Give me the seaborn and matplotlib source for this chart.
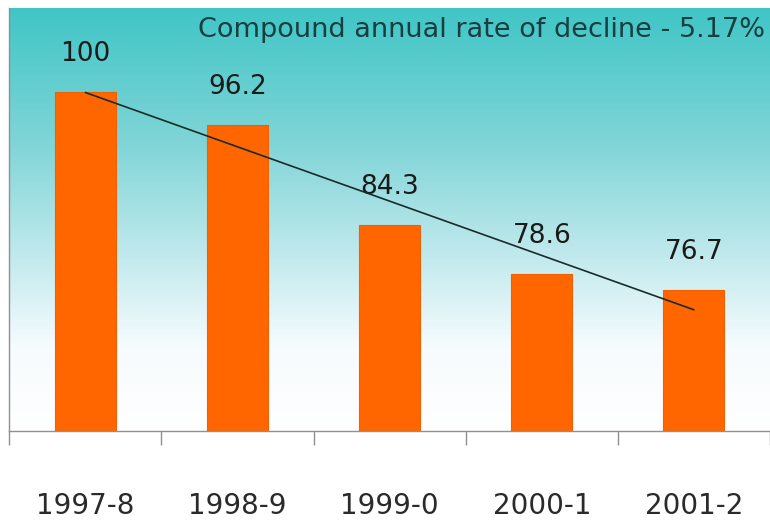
import numpy as np
import matplotlib.pyplot as plt
import seaborn as sns
from matplotlib.colors import LinearSegmentedColormap
from matplotlib.ticker import FixedLocator

# data
periods = ['1997-8', '1998-9', '1999-0', '2000-1', '2001-2']
index_values = [100, 96.2, 84.3, 78.6, 76.7]
title_note = 'Compound annual rate of decline - 5.17%'

sns.set_style('ticks')
plt.rcParams['font.family'] = ['DejaVu Sans']

fig = plt.figure(figsize=(7.7, 5.23), dpi=100)
ax = fig.add_axes([0.012, 0.176, 0.988, 0.809])

# teal-to-white background gradient
bg = LinearSegmentedColormap.from_list(
    'bg', [(0, '#ffffff'), (0.2, '#f6fbfd'), (0.43, '#bde8ec'),
           (0.68, '#80d5d7'), (1, '#40c5c6')])
grad = np.linspace(0, 1, 256).reshape(-1, 1)
ax.imshow(grad, cmap=bg, aspect='auto', extent=[0, 1, 0, 1],
          transform=ax.transAxes, origin='lower', zorder=0)

sns.barplot(x=periods, y=index_values, color='#ff6600', saturation=1,
            width=0.4, edgecolor='#f05f00', linewidth=0.8, ax=ax, zorder=2)
ax.bar_label(ax.containers[0], fmt='{:g}', padding=18, fontsize=19,
             color='#1a1a1a')

# linear trend through the index values
sns.regplot(x=np.arange(len(index_values)), y=index_values, scatter=False,
            ci=None, color='#1a2b2b', line_kws={'lw': 1.2, 'zorder': 3}, ax=ax)

ax.set_xlim(-0.5, 4.5)
ax.set_ylim(60, 110)
ax.set_xticks(range(len(periods)))
ax.set_xticklabels(periods)
ax.set_yticks([])
ax.set_xlabel('')
ax.set_ylabel('')
for s in ['top', 'right']:
    ax.spines[s].set_visible(False)
for s in ['left', 'bottom']:
    ax.spines[s].set_color('#909090')
    ax.spines[s].set_linewidth(1)

ax.tick_params(axis='x', which='major', length=0, pad=44, labelsize=20,
               labelcolor='#2a2a2a')
ax.xaxis.set_minor_locator(FixedLocator(np.arange(-0.5, 5, 1)))
ax.tick_params(axis='x', which='minor', length=10, width=1, color='#909090',
               direction='out')

fig.text(0.994, 1 - 30 / 523, title_note, ha='right', va='center',
         fontsize=19.5, color='#173f40')

fig.savefig('out.png', dpi=100)
plt.close()
